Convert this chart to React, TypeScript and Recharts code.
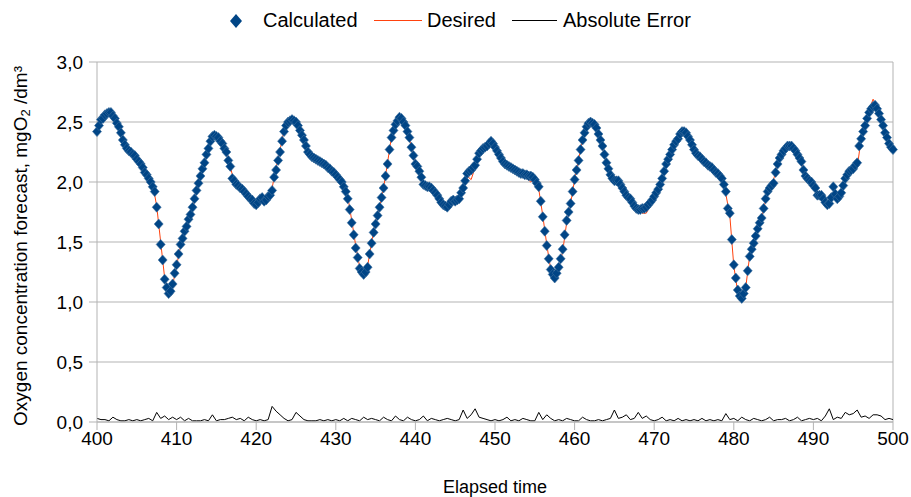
import React from 'react';
import { ComposedChart, Line, Scatter, XAxis, YAxis, CartesianGrid, ReferenceLine } from 'recharts';

// Elapsed time samples: 400 .. 500, every 0.5 (on the half steps for calculatedMid)
const X_START = 400;
const X_STEP = 0.5;

const desired = [
  2.41, 2.50, 2.55, 2.59, 2.56, 2.50, 2.40, 2.30, 2.26, 2.24,
  2.20, 2.15, 2.09, 2.04, 1.98, 1.80, 1.50, 1.20, 1.06, 1.14,
  1.30, 1.47, 1.58, 1.68, 1.78, 1.92, 2.06, 2.17, 2.29, 2.38,
  2.39, 2.35, 2.30, 2.20, 2.06, 2.00, 1.97, 1.94, 1.89, 1.86,
  1.82, 1.85, 1.86, 1.86, 1.95, 2.12, 2.27, 2.43, 2.50, 2.52,
  2.50, 2.44, 2.36, 2.26, 2.22, 2.19, 2.18, 2.16, 2.13, 2.10,
  2.07, 2.03, 1.98, 1.88, 1.68, 1.47, 1.29, 1.23, 1.30, 1.50,
  1.67, 1.79, 1.95, 2.16, 2.38, 2.47, 2.54, 2.51, 2.43, 2.29,
  2.16, 2.10, 1.99, 1.96, 1.96, 1.92, 1.86, 1.82, 1.79, 1.82,
  1.85, 1.86, 1.96, 2.05, 2.02, 2.12, 2.26, 2.29, 2.31, 2.34,
  2.30, 2.24, 2.19, 2.15, 2.13, 2.11, 2.09, 2.06, 2.03, 2.00,
  2.03, 1.94, 1.72, 1.48, 1.27, 1.20, 1.28, 1.42, 1.66, 1.82,
  2.02, 2.19, 2.35, 2.46, 2.50, 2.48, 2.40, 2.29, 2.16, 2.05,
  2.04, 2.03, 1.96, 1.89, 1.86, 1.82, 1.77, 1.74, 1.74, 1.80,
  1.86, 1.92, 2.02, 2.14, 2.23, 2.32, 2.38, 2.42, 2.41, 2.35,
  2.28, 2.23, 2.20, 2.17, 2.14, 2.10, 2.07, 2.03, 1.90, 1.72,
  1.30, 1.08, 1.02, 1.12, 1.39, 1.50, 1.62, 1.70, 1.85, 1.94,
  2.02, 2.15, 2.23, 2.28, 2.31, 2.29, 2.24, 2.17, 2.05, 2.01,
  1.98, 1.90, 1.88, 1.84, 1.84, 1.88, 1.88, 1.92, 2.02, 2.08,
  2.10, 2.12, 2.36, 2.48, 2.60, 2.69, 2.62, 2.52, 2.42, 2.32,
  2.26,
];

const calculated = [
  2.42, 2.52, 2.56, 2.58, 2.55, 2.49, 2.41, 2.31, 2.26, 2.23,
  2.19, 2.15, 2.08, 2.03, 1.96, 1.79, 1.48, 1.19, 1.07, 1.15,
  1.31, 1.48, 1.59, 1.69, 1.79, 1.93, 2.05, 2.16, 2.28, 2.38,
  2.38, 2.34, 2.28, 2.18, 2.03, 1.98, 1.95, 1.92, 1.88, 1.85,
  1.81, 1.86, 1.84, 1.88, 1.93, 2.10, 2.25, 2.42, 2.50, 2.52,
  2.50, 2.43, 2.35, 2.25, 2.21, 2.19, 2.17, 2.15, 2.12, 2.09,
  2.06, 2.02, 1.96, 1.86, 1.66, 1.45, 1.28, 1.23, 1.29, 1.49,
  1.65, 1.79, 1.95, 2.15, 2.37, 2.48, 2.54, 2.50, 2.42, 2.29,
  2.15, 2.09, 1.98, 1.96, 1.95, 1.91, 1.86, 1.81, 1.79, 1.84,
  1.84, 1.86, 1.95, 2.07, 2.10, 2.14, 2.24, 2.28, 2.30, 2.34,
  2.29, 2.23, 2.17, 2.14, 2.12, 2.10, 2.08, 2.07, 2.06, 2.05,
  2.02, 1.96, 1.71, 1.47, 1.27, 1.20, 1.29, 1.44, 1.68, 1.82,
  2.02, 2.18, 2.35, 2.46, 2.50, 2.48, 2.40, 2.30, 2.16, 2.06,
  2.01, 2.01, 1.95, 1.89, 1.86, 1.80, 1.77, 1.78, 1.79, 1.83,
  1.88, 1.94, 2.03, 2.15, 2.23, 2.31, 2.36, 2.42, 2.41, 2.35,
  2.27, 2.22, 2.19, 2.16, 2.13, 2.10, 2.07, 2.03, 1.92, 1.74,
  1.31, 1.10, 1.03, 1.12, 1.38, 1.49, 1.61, 1.70, 1.86, 1.95,
  1.99, 2.15, 2.23, 2.28, 2.30, 2.28, 2.23, 2.17, 2.05, 2.01,
  1.97, 1.89, 1.89, 1.83, 1.82, 1.96, 1.86, 1.91, 2.03, 2.09,
  2.11, 2.16, 2.36, 2.47, 2.58, 2.63, 2.61, 2.52, 2.41, 2.32,
  2.27,
];

// Calculated values at 400.25, 400.75, ... 499.75
const calculatedMid = [
  2.47, 2.53, 2.57, 2.58, 2.53, 2.46, 2.35, 2.28, 2.25, 2.22,
  2.17, 2.12, 2.06, 2.00, 1.92, 1.65, 1.35, 1.12, 1.09, 1.24,
  1.40, 1.53, 1.63, 1.73, 1.86, 1.99, 2.11, 2.23, 2.34, 2.39,
  2.37, 2.32, 2.25, 2.13, 2.01, 1.97, 1.94, 1.90, 1.86, 1.82,
  1.83, 1.87, 1.85, 1.89, 2.04, 2.18, 2.34, 2.47, 2.51, 2.51,
  2.47, 2.39, 2.30, 2.23, 2.20, 2.18, 2.16, 2.14, 2.11, 2.08,
  2.04, 2.00, 1.92, 1.77, 1.56, 1.37, 1.25, 1.25, 1.40, 1.58,
  1.72, 1.87, 2.05, 2.27, 2.43, 2.51, 2.53, 2.47, 2.37, 2.22,
  2.13, 2.04, 1.97, 1.96, 1.93, 1.89, 1.83, 1.80, 1.81, 1.85,
  1.85, 1.91, 2.01, 2.09, 2.12, 2.19, 2.26, 2.29, 2.32, 2.32,
  2.26, 2.20, 2.15, 2.13, 2.11, 2.09, 2.07, 2.06, 2.05, 2.04,
  1.99, 1.84, 1.59, 1.36, 1.23, 1.24, 1.36, 1.56, 1.75, 1.92,
  2.10, 2.27, 2.41, 2.49, 2.49, 2.45, 2.35, 2.23, 2.11, 2.03,
  2.01, 1.98, 1.92, 1.87, 1.83, 1.78, 1.77, 1.78, 1.81, 1.85,
  1.91, 1.98, 2.09, 2.19, 2.27, 2.34, 2.40, 2.42, 2.38, 2.31,
  2.24, 2.21, 2.17, 2.14, 2.12, 2.08, 2.05, 1.98, 1.78, 1.52,
  1.20, 1.05, 1.07, 1.26, 1.44, 1.55, 1.66, 1.78, 1.92, 1.97,
  2.08, 2.20, 2.26, 2.30, 2.30, 2.26, 2.20, 2.10, 2.03, 2.00,
  1.95, 1.89, 1.86, 1.81, 1.87, 1.90, 1.88, 1.97, 2.06, 2.10,
  2.14, 2.30, 2.42, 2.53, 2.61, 2.64, 2.57, 2.47, 2.37, 2.29,
];

const absoluteError = [
  0.03, 0.02, 0.02, 0.01, 0.04, 0.02, 0.01, 0.01, 0.02, 0.01,
  0.02, 0.01, 0.02, 0.03, 0.01, 0.08, 0.03, 0.05, 0.02, 0.04,
  0.02, 0.04, 0.01, 0.03, 0.01, 0.01, 0.01, 0.02, 0.01, 0.06,
  0.01, 0.02, 0.02, 0.03, 0.04, 0.02, 0.03, 0.01, 0.04, 0.02,
  0.01, 0.02, 0.01, 0.02, 0.13, 0.09, 0.06, 0.03, 0.01, 0.02,
  0.08, 0.05, 0.02, 0.01, 0.01, 0.01, 0.02, 0.01, 0.02, 0.01,
  0.02, 0.01, 0.03, 0.01, 0.03, 0.02, 0.01, 0.04, 0.02, 0.03,
  0.02, 0.01, 0.04, 0.02, 0.01, 0.05, 0.02, 0.01, 0.04, 0.02,
  0.01, 0.02, 0.05, 0.01, 0.03, 0.02, 0.01, 0.02, 0.03, 0.02,
  0.01, 0.02, 0.10, 0.03, 0.06, 0.11, 0.04, 0.03, 0.02, 0.01,
  0.02, 0.01, 0.02, 0.04, 0.01, 0.02, 0.01, 0.03, 0.02, 0.01,
  0.01, 0.08, 0.02, 0.06, 0.03, 0.01, 0.02, 0.01, 0.03, 0.02,
  0.01, 0.01, 0.04, 0.02, 0.01, 0.01, 0.02, 0.01, 0.02, 0.03,
  0.10, 0.03, 0.04, 0.06, 0.02, 0.03, 0.08, 0.03, 0.05, 0.02,
  0.01, 0.02, 0.04, 0.01, 0.02, 0.01, 0.03, 0.01, 0.02, 0.01,
  0.02, 0.01, 0.03, 0.01, 0.02, 0.01, 0.02, 0.01, 0.07, 0.02,
  0.03, 0.01, 0.04, 0.02, 0.01, 0.03, 0.02, 0.01, 0.02, 0.04,
  0.01, 0.02, 0.02, 0.03, 0.01, 0.02, 0.04, 0.01, 0.02, 0.03,
  0.02, 0.03, 0.01, 0.05, 0.11, 0.02, 0.04, 0.03, 0.08, 0.06,
  0.07, 0.10, 0.04, 0.05, 0.03, 0.06, 0.06, 0.05, 0.02, 0.03,
  0.02,
];

const xTicks = [400, 410, 420, 430, 440, 450, 460, 470, 480, 490, 500];
const yTicks = [0, 0.5, 1.0, 1.5, 2.0, 2.5, 3.0];

const data = desired.map((d, i) => ({
  t: X_START + i * X_STEP,
  desired: d,
  error: absoluteError[i],
}));

const scatterData = [
  ...calculated.map((c, i) => ({ t: X_START + i * X_STEP, calculated: c })),
  ...calculatedMid.map((c, i) => ({ t: X_START + X_STEP / 2 + i * X_STEP, calculated: c })),
].sort((a, b) => a.t - b.t);

const FONT = '"Liberation Sans", Arial, sans-serif';
const BLUE = '#004586';
const ORANGE = '#ff420e';
const GRID = '#b3b3b3';

const Diamond = (props: any) => {
  const { cx, cy } = props;
  if (cx == null || cy == null) return null;
  return (
    <polygon
      points={`${cx},${cy - 5} ${cx + 4.5},${cy} ${cx},${cy + 5} ${cx - 4.5},${cy}`}
      fill={BLUE}
      stroke="#3d6e9e"
      strokeWidth={0.6}
    />
  );
};

const YTitle = (props: any) => {
  const vb = props.viewBox || { x: 0, y: 62, width: 97, height: 360 };
  const cx = vb.x + 20;
  const cy = vb.y + vb.height / 2 + 4;
  return (
    <text
      x={cx}
      y={cy}
      transform={`rotate(-90, ${cx}, ${cy})`}
      textAnchor="middle"
      dominantBaseline="central"
      fontFamily={FONT}
      fontSize={19}
      fill="#000"
    >
      Oxygen concentration forecast, mgO
      <tspan fontSize={13} dy={5}>2</tspan>
      <tspan dy={-5}> /dm³</tspan>
    </text>
  );
};

const LegendBar = () => (
  <div
    style={{
      position: 'absolute',
      left: 0,
      top: 8,
      width: 911,
      height: 26,
      fontFamily: FONT,
      fontSize: 20,
      color: '#000',
    }}
  >
    <svg style={{ position: 'absolute', left: 229, top: 5 }} width={14} height={16}>
      <polygon points="7,1 13,8 7,15 1,8" fill={BLUE} />
    </svg>
    <span style={{ position: 'absolute', left: 263, top: 0, lineHeight: '24px' }}>Calculated</span>
    <div style={{ position: 'absolute', left: 374, top: 12, width: 48, height: 1, background: ORANGE }} />
    <span style={{ position: 'absolute', left: 427, top: 0, lineHeight: '24px' }}>Desired</span>
    <div style={{ position: 'absolute', left: 512, top: 12, width: 45, height: 1, background: '#000' }} />
    <span style={{ position: 'absolute', left: 563, top: 0, lineHeight: '24px' }}>Absolute Error</span>
  </div>
);

export default function App() {
  return (
    <div style={{ position: 'absolute', left: 0, top: 0, width: 911, height: 497, background: '#fff' }}>
      <LegendBar />
      <ComposedChart
        width={911}
        height={497}
        data={data}
        margin={{ top: 62, right: 18, bottom: 0, left: 0 }}
        style={{ position: 'absolute', left: 0, top: 0 }}
      >
        <CartesianGrid vertical={false} stroke={GRID} strokeWidth={1} />
        <XAxis
          type="number"
          dataKey="t"
          domain={[400, 500]}
          ticks={xTicks}
          height={75}
          interval={0}
          stroke={GRID}
          tickSize={8}
          tick={{ fontSize: 19, fill: '#000', fontFamily: FONT }}
          label={{ value: 'Elapsed time', position: 'insideBottom', offset: 4, fontSize: 18, fill: '#000', fontFamily: FONT }}
        />
        <YAxis
          type="number"
          domain={[0, 3]}
          ticks={yTicks}
          width={97}
          interval={0}
          stroke={GRID}
          tickSize={8}
          tickMargin={6}
          tickFormatter={(v: number) => v.toFixed(1).replace('.', ',')}
          tick={{ fontSize: 19, fill: '#000', fontFamily: FONT }}
          label={<YTitle />}
        />
        <ReferenceLine x={500} stroke={GRID} />
        <Line
          type="linear"
          dataKey="desired"
          stroke={ORANGE}
          strokeWidth={1}
          dot={false}
          isAnimationActive={false}
        />
        <Line
          type="linear"
          dataKey="error"
          stroke="#000"
          strokeWidth={1}
          dot={false}
          isAnimationActive={false}
        />
        <Scatter data={scatterData} dataKey="calculated" shape={<Diamond />} isAnimationActive={false} />
      </ComposedChart>
    </div>
  );
}
